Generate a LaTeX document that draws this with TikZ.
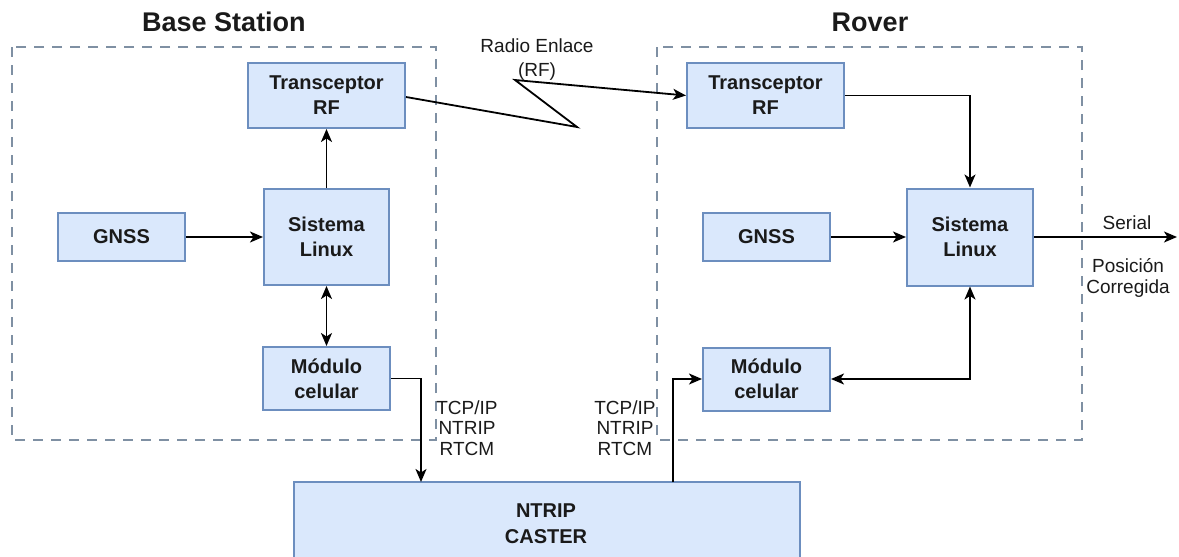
\documentclass[tikz,border=0pt]{standalone}
\usepackage{fontspec}
\setmainfont{Liberation Sans}
\usetikzlibrary{arrows.meta}

\definecolor{boxfill}{HTML}{DAE8FC}
\definecolor{boxline}{HTML}{6C8EBF}
\definecolor{groupline}{HTML}{7F90A3}
\definecolor{ink}{HTML}{1A1A1A}

\tikzset{
  block/.style={draw=boxline, fill=boxfill, line width=2pt, align=center,
    inner sep=0pt, text=ink,
    font=\fontsize{20}{25}\selectfont\bfseries},
  group/.style={draw=groupline, line width=2.6pt, dash pattern=on 10pt off 8pt},
  title/.style={font=\fontsize{27}{30}\selectfont\bfseries, text=ink},
  lbl/.style={font=\fontsize{19}{20.5}\selectfont, align=center, text=ink, inner sep=0pt},
  link/.style={line width=1.8pt, draw=black},
  tip/.style={-{Stealth[length=13pt,width=11pt,inset=3.5pt]}},
  tips/.style={{Stealth[length=13pt,width=11pt,inset=3.5pt]}-{Stealth[length=13pt,width=11pt,inset=3.5pt]}}
}

\begin{document}
\begin{tikzpicture}[x=1pt, y=-1pt]
\useasboundingbox (0,0) rectangle (1179,557);

% group frames
\draw[group] (12,47) rectangle (436,440);
\draw[group] (657,47) rectangle (1082,440);
\node[title] (tBase) at (224,22) {Base Station};
\node[title] (tRover) at (870,22) {Rover};

% base station blocks
\node[block, minimum width=157pt, minimum height=65pt] (bTx)  at (326.5,95.5) {Transceptor\\RF};
\node[block, minimum width=125pt, minimum height=96pt] (bLin) at (326.5,237) {Sistema\\Linux};
\node[block, minimum width=127pt, minimum height=48pt] (bGnss) at (121.5,237) {GNSS};
\node[block, minimum width=127pt, minimum height=63pt] (bMod) at (326.5,378.5) {Módulo\\celular};

% rover blocks
\node[block, minimum width=157pt, minimum height=65pt] (rTx)  at (765.5,95.5) {Transceptor\\RF};
\node[block, minimum width=126pt, minimum height=97pt] (rLin) at (970,237) {Sistema\\Linux};
\node[block, minimum width=127pt, minimum height=48pt] (rGnss) at (766.5,237) {GNSS};
\node[block, minimum width=127pt, minimum height=63pt] (rMod) at (766.5,379) {Módulo\\celular};

% caster, running past the lower edge
\fill[boxfill] (294,482) rectangle (800,557);
\draw[boxline, line width=2pt] (294,557) -- (294,482) -- (800,482) -- (800,557);
\node[font=\fontsize{20}{26}\selectfont\bfseries, align=center, text=ink] (caster) at (546,524) {NTRIP\\CASTER};
\coordinate (casterIn) at (421,482);
\coordinate (casterOut) at (673,482);

% radio link bends and serial output end
\coordinate (rf1) at (577,127);
\coordinate (rf2) at (515,80);
\coordinate (serialEnd) at (1177,237);

% connectors, base station
\draw[link, tip] (bGnss.east) -- (bLin.west);
\draw[link, tip] (bLin.north) -- (bTx.south);
\draw[link, tips] (bLin.south) -- (bMod.north);
\draw[link, tip] ([yshift=-1.5pt]bTx.east) -- (rf1) -- (rf2) -- (rTx.west);
\draw[link, tip] (bMod.east) -| (casterIn);

% connectors, rover
\draw[link, tip] (rTx.east) -| (rLin.north);
\draw[link, tip] (rGnss.east) -- (rLin.west);
\draw[link, tip] (rLin.east) -- (serialEnd);
\draw[link, tips] (rMod.east) -| (rLin.south);
\draw[link, tip] (casterOut) |- (rMod.west);

% labels
\node[lbl, font=\fontsize{19}{24}\selectfont] (lRadio) at (537,60) {Radio Enlace\\(RF)};
\node[lbl] (lLeft) at (467,428) {TCP/IP\\NTRIP\\RTCM};
\node[lbl] (lRight) at (625,428) {TCP/IP\\NTRIP\\RTCM};
\node[lbl] (lSerial) at (1127,223) {Serial};
\node[lbl, font=\fontsize{19}{21}\selectfont] (lPos) at (1128,278) {Posición\\Corregida};
\end{tikzpicture}
\end{document}
